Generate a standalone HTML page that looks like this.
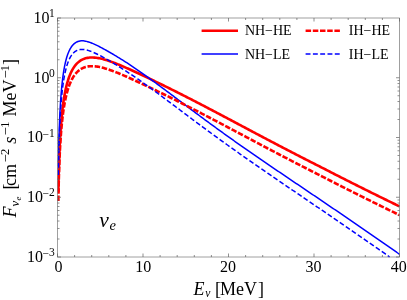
<!DOCTYPE html>
<html><head><meta charset="utf-8"><title>plot</title><style>html,body{margin:0;padding:0;background:#fff;width:407px;height:300px;overflow:hidden;font-family:"Liberation Serif",serif}</style></head><body>
<svg width="407" height="300" viewBox="0 0 407 300" style="position:absolute;left:0;top:0;will-change:transform">
<rect width="407" height="300" fill="#fff"/>
<g fill="none" stroke-linejoin="round" stroke-linecap="butt">
<path d="M58.35 192.26 L58.39 190.38 L58.42 188.50 L58.46 186.62 L58.50 184.74 L58.53 182.87 L58.57 181.00 L58.61 179.13 L58.66 177.26 L58.70 175.40 L58.75 173.54 L58.80 171.69 L58.85 169.83 L58.90 167.98 L58.95 166.14 L59.01 164.29 L59.07 162.45 L59.13 160.62 L59.19 158.79 L59.26 156.96 L59.33 155.14 L59.40 153.32 L59.47 151.50 L59.55 149.69 L59.62 147.89 L59.71 146.09 L59.79 144.30 L59.88 142.51 L59.97 140.73 L60.07 138.95 L60.17 137.18 L60.27 135.42 L60.38 133.66 L60.49 131.92 L60.60 130.17 L60.72 128.44 L60.85 126.71 L60.98 124.99 L61.11 123.29 L61.25 121.58 L61.40 119.89 L61.55 118.21 L61.70 116.54 L61.87 114.87 L62.04 113.22 L62.21 111.58 L62.39 109.95 L62.58 108.33 L62.78 106.73 L62.98 105.14 L63.19 103.56 L63.41 101.99 L63.64 100.44 L63.88 98.90 L64.13 97.38 L64.38 95.87 L64.65 94.38 L64.92 92.91 L65.21 91.45 L65.51 90.02 L65.82 88.60 L66.14 87.20 L66.47 85.82 L66.82 84.46 L67.18 83.13 L67.56 81.82 L67.94 80.53 L68.35 79.26 L68.77 78.02 L69.20 76.80 L69.66 75.62 L70.13 74.45 L70.61 73.32 L71.12 72.22 L71.65 71.15 L72.19 70.11 L72.76 69.10 L73.35 68.12 L73.96 67.19 L74.60 66.28 L75.69 64.89 L76.77 63.68 L77.86 62.62 L78.95 61.69 L80.03 60.89 L81.12 60.20 L82.21 59.61 L83.29 59.11 L84.38 58.69 L85.47 58.34 L86.55 58.06 L87.64 57.85 L88.73 57.68 L89.81 57.57 L90.90 57.51 L91.99 57.50 L93.07 57.52 L94.16 57.58 L95.25 57.67 L96.33 57.80 L97.42 57.95 L98.51 58.14 L99.59 58.34 L100.68 58.57 L101.77 58.83 L102.85 59.10 L103.94 59.39 L105.03 59.70 L106.11 60.02 L107.20 60.36 L108.29 60.72 L109.37 61.08 L110.46 61.46 L111.55 61.85 L112.63 62.25 L113.72 62.65 L114.81 63.07 L115.89 63.49 L116.98 63.93 L118.06 64.36 L119.15 64.81 L120.24 65.26 L121.32 65.72 L122.41 66.18 L123.50 66.65 L124.58 67.12 L125.67 67.59 L126.76 68.07 L127.84 68.55 L128.93 69.04 L130.02 69.53 L131.10 70.02 L132.19 70.51 L133.28 71.01 L134.36 71.51 L135.45 72.01 L136.54 72.51 L137.62 73.02 L138.71 73.52 L139.80 74.03 L140.88 74.54 L141.97 75.05 L143.06 75.57 L144.14 76.08 L145.23 76.60 L146.32 77.12 L147.40 77.63 L148.49 78.15 L149.58 78.67 L150.66 79.20 L151.75 79.72 L152.84 80.24 L153.92 80.77 L155.01 81.30 L156.10 81.82 L157.18 82.35 L158.27 82.88 L159.36 83.41 L160.44 83.94 L161.53 84.48 L162.62 85.01 L163.70 85.54 L164.79 86.08 L165.88 86.62 L166.96 87.15 L168.05 87.69 L169.14 88.23 L170.22 88.77 L171.31 89.31 L172.40 89.85 L173.48 90.40 L174.57 90.94 L175.66 91.49 L176.74 92.03 L177.83 92.58 L178.92 93.13 L180.00 93.68 L181.09 94.23 L182.18 94.78 L183.26 95.33 L184.35 95.88 L185.44 96.43 L186.52 96.99 L187.61 97.54 L188.70 98.10 L189.78 98.65 L190.87 99.21 L191.96 99.77 L193.04 100.33 L194.13 100.89 L195.22 101.45 L196.30 102.01 L197.39 102.57 L198.47 103.13 L199.56 103.70 L200.65 104.26 L201.73 104.83 L202.82 105.39 L203.91 105.96 L204.99 106.52 L206.08 107.09 L207.17 107.66 L208.25 108.23 L209.34 108.80 L210.43 109.37 L211.51 109.94 L212.60 110.51 L213.69 111.08 L214.77 111.65 L215.86 112.22 L216.95 112.79 L218.03 113.37 L219.12 113.94 L220.21 114.51 L221.29 115.09 L222.38 115.66 L223.47 116.24 L224.55 116.81 L225.64 117.39 L226.73 117.96 L227.81 118.54 L228.90 119.12 L229.99 119.69 L231.07 120.27 L232.16 120.84 L233.25 121.42 L234.33 122.00 L235.42 122.58 L236.51 123.15 L237.59 123.73 L238.68 124.31 L239.77 124.88 L240.85 125.46 L241.94 126.04 L243.03 126.62 L244.11 127.19 L245.20 127.77 L246.29 128.35 L247.37 128.92 L248.46 129.50 L249.55 130.08 L250.63 130.65 L251.72 131.23 L252.81 131.81 L253.89 132.38 L254.98 132.96 L256.07 133.53 L257.15 134.11 L258.24 134.68 L259.33 135.26 L260.41 135.83 L261.50 136.41 L262.59 136.98 L263.67 137.56 L264.76 138.13 L265.85 138.70 L266.93 139.28 L268.02 139.85 L269.11 140.42 L270.19 140.99 L271.28 141.56 L272.37 142.13 L273.45 142.70 L274.54 143.27 L275.63 143.84 L276.71 144.41 L277.80 144.98 L278.88 145.55 L279.97 146.12 L281.06 146.68 L282.14 147.25 L283.23 147.82 L284.32 148.38 L285.40 148.95 L286.49 149.51 L287.58 150.08 L288.66 150.64 L289.75 151.20 L290.84 151.76 L291.92 152.33 L293.01 152.89 L294.10 153.45 L295.18 154.01 L296.27 154.57 L297.36 155.13 L298.44 155.68 L299.53 156.24 L300.62 156.80 L301.70 157.36 L302.79 157.91 L303.88 158.47 L304.96 159.02 L306.05 159.58 L307.14 160.13 L308.22 160.68 L309.31 161.24 L310.40 161.79 L311.48 162.34 L312.57 162.89 L313.66 163.44 L314.74 163.99 L315.83 164.54 L316.92 165.09 L318.00 165.63 L319.09 166.18 L320.18 166.73 L321.26 167.29 L322.35 167.85 L323.44 168.41 L324.52 168.97 L325.61 169.53 L326.70 170.09 L327.78 170.65 L328.87 171.21 L329.96 171.77 L331.04 172.32 L332.13 172.88 L333.22 173.43 L334.30 173.99 L335.39 174.54 L336.48 175.10 L337.56 175.65 L338.65 176.20 L339.74 176.76 L340.82 177.31 L341.91 177.86 L343.00 178.41 L344.08 178.96 L345.17 179.51 L346.26 180.06 L347.34 180.60 L348.43 181.15 L349.52 181.70 L350.60 182.25 L351.69 182.79 L352.78 183.34 L353.86 183.88 L354.95 184.43 L356.04 184.97 L357.12 185.52 L358.21 186.06 L359.29 186.60 L360.38 187.14 L361.47 187.69 L362.55 188.23 L363.64 188.77 L364.73 189.31 L365.81 189.85 L366.90 190.39 L367.99 190.93 L369.07 191.47 L370.16 192.00 L371.25 192.54 L372.33 193.08 L373.42 193.62 L374.51 194.15 L375.59 194.69 L376.68 195.23 L377.77 195.76 L378.85 196.30 L379.94 196.83 L381.03 197.36 L382.11 197.90 L383.20 198.43 L384.29 198.97 L385.37 199.50 L386.46 200.03 L387.55 200.56 L388.63 201.10 L389.72 201.63 L390.81 202.16 L391.89 202.69 L392.98 203.22 L394.07 203.75 L395.15 204.28 L396.24 204.81 L397.33 205.34 L398.41 205.87 L399.50 206.40" stroke="#ff0000" stroke-width="2.6"/>
<path d="M58.35 166.12 L58.39 164.11 L58.42 162.11 L58.46 160.12 L58.50 158.13 L58.53 156.14 L58.57 154.15 L58.61 152.17 L58.66 150.20 L58.70 148.22 L58.75 146.26 L58.80 144.30 L58.85 142.34 L58.90 140.39 L58.95 138.44 L59.01 136.50 L59.07 134.57 L59.13 132.64 L59.19 130.71 L59.26 128.80 L59.33 126.89 L59.40 124.99 L59.47 123.09 L59.55 121.21 L59.62 119.33 L59.71 117.46 L59.79 115.59 L59.88 113.74 L59.97 111.90 L60.07 110.06 L60.17 108.24 L60.27 106.43 L60.38 104.63 L60.49 102.85 L60.60 101.07 L60.72 99.30 L60.85 97.55 L60.98 95.81 L61.11 94.09 L61.25 92.37 L61.40 90.68 L61.55 88.99 L61.70 87.33 L61.87 85.67 L62.04 84.04 L62.21 82.42 L62.39 80.82 L62.58 79.24 L62.78 77.68 L62.98 76.14 L63.19 74.62 L63.41 73.12 L63.64 71.64 L63.88 70.18 L64.13 68.75 L64.38 67.34 L64.65 65.96 L64.92 64.61 L65.21 63.28 L65.51 61.98 L65.82 60.71 L66.14 59.46 L66.47 58.25 L66.82 57.07 L67.18 55.93 L67.56 54.82 L67.94 53.74 L68.35 52.70 L68.77 51.70 L69.20 50.73 L69.66 49.81 L70.13 48.92 L70.61 48.08 L71.12 47.28 L71.65 46.52 L72.19 45.80 L72.76 45.12 L73.35 44.48 L73.96 43.88 L74.60 43.34 L75.69 42.56 L76.77 41.96 L77.86 41.50 L78.95 41.17 L80.03 40.96 L81.12 40.84 L82.21 40.81 L83.29 40.86 L84.38 40.98 L85.47 41.16 L86.55 41.39 L87.64 41.68 L88.73 42.00 L89.81 42.36 L90.90 42.76 L91.99 43.18 L93.07 43.63 L94.16 44.11 L95.25 44.60 L96.33 45.12 L97.42 45.65 L98.51 46.20 L99.59 46.76 L100.68 47.32 L101.77 47.89 L102.85 48.47 L103.94 49.06 L105.03 49.65 L106.11 50.25 L107.20 50.86 L108.29 51.48 L109.37 52.10 L110.46 52.73 L111.55 53.37 L112.63 54.01 L113.72 54.65 L114.81 55.30 L115.89 55.96 L116.98 56.62 L118.06 57.28 L119.15 57.95 L120.24 58.62 L121.32 59.30 L122.41 59.98 L123.50 60.66 L124.58 61.35 L125.67 62.04 L126.76 62.74 L127.84 63.44 L128.93 64.15 L130.02 64.86 L131.10 65.59 L132.19 66.32 L133.28 67.06 L134.36 67.80 L135.45 68.54 L136.54 69.29 L137.62 70.05 L138.71 70.80 L139.80 71.56 L140.88 72.32 L141.97 73.08 L143.06 73.85 L144.14 74.62 L145.23 75.40 L146.32 76.17 L147.40 76.95 L148.49 77.73 L149.58 78.52 L150.66 79.30 L151.75 80.09 L152.84 80.89 L153.92 81.68 L155.01 82.47 L156.10 83.27 L157.18 84.07 L158.27 84.87 L159.36 85.67 L160.44 86.48 L161.53 87.28 L162.62 88.09 L163.70 88.90 L164.79 89.71 L165.88 90.52 L166.96 91.33 L168.05 92.14 L169.14 92.96 L170.22 93.77 L171.31 94.59 L172.40 95.40 L173.48 96.22 L174.57 97.03 L175.66 97.85 L176.74 98.67 L177.83 99.49 L178.92 100.30 L180.00 101.12 L181.09 101.94 L182.18 102.75 L183.26 103.57 L184.35 104.39 L185.44 105.20 L186.52 106.02 L187.61 106.84 L188.70 107.65 L189.78 108.47 L190.87 109.28 L191.96 110.09 L193.04 110.91 L194.13 111.72 L195.22 112.53 L196.30 113.34 L197.39 114.15 L198.47 114.96 L199.56 115.77 L200.65 116.57 L201.73 117.38 L202.82 118.18 L203.91 118.99 L204.99 119.79 L206.08 120.59 L207.17 121.39 L208.25 122.19 L209.34 122.99 L210.43 123.78 L211.51 124.58 L212.60 125.37 L213.69 126.17 L214.77 126.96 L215.86 127.75 L216.95 128.54 L218.03 129.33 L219.12 130.11 L220.21 130.90 L221.29 131.68 L222.38 132.47 L223.47 133.25 L224.55 134.03 L225.64 134.81 L226.73 135.59 L227.81 136.36 L228.90 137.14 L229.99 137.91 L231.07 138.69 L232.16 139.46 L233.25 140.23 L234.33 141.00 L235.42 141.77 L236.51 142.53 L237.59 143.30 L238.68 144.06 L239.77 144.83 L240.85 145.59 L241.94 146.35 L243.03 147.11 L244.11 147.87 L245.20 148.63 L246.29 149.39 L247.37 150.14 L248.46 150.90 L249.55 151.65 L250.63 152.41 L251.72 153.16 L252.81 153.91 L253.89 154.66 L254.98 155.41 L256.07 156.16 L257.15 156.91 L258.24 157.66 L259.33 158.41 L260.41 159.15 L261.50 159.90 L262.59 160.64 L263.67 161.39 L264.76 162.13 L265.85 162.87 L266.93 163.62 L268.02 164.36 L269.11 165.10 L270.19 165.84 L271.28 166.58 L272.37 167.32 L273.45 168.06 L274.54 168.80 L275.63 169.54 L276.71 170.27 L277.80 171.01 L278.88 171.75 L279.97 172.49 L281.06 173.22 L282.14 173.96 L283.23 174.69 L284.32 175.43 L285.40 176.16 L286.49 176.90 L287.58 177.64 L288.66 178.37 L289.75 179.10 L290.84 179.84 L291.92 180.57 L293.01 181.31 L294.10 182.04 L295.18 182.78 L296.27 183.51 L297.36 184.24 L298.44 184.98 L299.53 185.71 L300.62 186.44 L301.70 187.18 L302.79 187.91 L303.88 188.65 L304.96 189.38 L306.05 190.11 L307.14 190.85 L308.22 191.58 L309.31 192.32 L310.40 193.05 L311.48 193.78 L312.57 194.52 L313.66 195.25 L314.74 195.99 L315.83 196.72 L316.92 197.46 L318.00 198.19 L319.09 198.93 L320.18 199.66 L321.26 200.40 L322.35 201.14 L323.44 201.87 L324.52 202.61 L325.61 203.34 L326.70 204.08 L327.78 204.82 L328.87 205.56 L329.96 206.29 L331.04 207.03 L332.13 207.77 L333.22 208.51 L334.30 209.25 L335.39 209.99 L336.48 210.73 L337.56 211.47 L338.65 212.21 L339.74 212.95 L340.82 213.69 L341.91 214.43 L343.00 215.17 L344.08 215.91 L345.17 216.65 L346.26 217.40 L347.34 218.14 L348.43 218.88 L349.52 219.63 L350.60 220.37 L351.69 221.12 L352.78 221.86 L353.86 222.61 L354.95 223.35 L356.04 224.10 L357.12 224.84 L358.21 225.59 L359.29 226.34 L360.38 227.08 L361.47 227.83 L362.55 228.58 L363.64 229.33 L364.73 230.08 L365.81 230.83 L366.90 231.58 L367.99 232.33 L369.07 233.08 L370.16 233.83 L371.25 234.58 L372.33 235.33 L373.42 236.09 L374.51 236.84 L375.59 237.59 L376.68 238.35 L377.77 239.10 L378.85 239.86 L379.94 240.61 L381.03 241.37 L382.11 242.12 L383.20 242.88 L384.29 243.64 L385.37 244.39 L386.46 245.15 L387.55 245.91 L388.63 246.67 L389.72 247.43 L390.81 248.19 L391.89 248.95 L392.98 249.71 L394.07 250.47 L395.15 251.23 L396.24 251.99 L397.33 252.75 L398.41 253.51 L399.50 254.28" stroke="#0000ff" stroke-width="1.5"/>
<path d="M58.35 200.96 L58.39 199.08 L58.42 197.20 L58.46 195.32 L58.50 193.44 L58.53 191.57 L58.57 189.70 L58.61 187.83 L58.66 185.96 L58.70 184.10 L58.75 182.24 L58.80 180.39 L58.85 178.53 L58.90 176.68 L58.95 174.84 L59.01 172.99 L59.07 171.15 L59.13 169.32 L59.19 167.49 L59.26 165.66 L59.33 163.84 L59.40 162.02 L59.47 160.20 L59.55 158.39 L59.62 156.59 L59.71 154.79 L59.79 153.00 L59.88 151.21 L59.97 149.43 L60.07 147.65 L60.17 145.88 L60.27 144.12 L60.38 142.36 L60.49 140.62 L60.60 138.87 L60.72 137.14 L60.85 135.41 L60.98 133.69 L61.11 131.99 L61.25 130.28 L61.40 128.59 L61.55 126.91 L61.70 125.24 L61.87 123.57 L62.04 121.92 L62.21 120.28 L62.39 118.65 L62.58 117.03 L62.78 115.43 L62.98 113.84 L63.19 112.26 L63.41 110.69 L63.64 109.14 L63.88 107.60 L64.13 106.08 L64.38 104.57 L64.65 103.08 L64.92 101.61 L65.21 100.15 L65.51 98.72 L65.82 97.30 L66.14 95.90 L66.47 94.52 L66.82 93.16 L67.18 91.83 L67.56 90.52 L67.94 89.23 L68.35 87.96 L68.77 86.72 L69.20 85.50 L69.66 84.32 L70.13 83.15 L70.61 82.02 L71.12 80.92 L71.65 79.85 L72.19 78.81 L72.76 77.80 L73.35 76.82 L73.96 75.89 L74.60 74.98 L75.69 73.59 L76.77 72.38 L77.86 71.32 L78.95 70.39 L80.03 69.59 L81.12 68.90 L82.21 68.31 L83.29 67.81 L84.38 67.39 L85.47 67.04 L86.55 66.76 L87.64 66.55 L88.73 66.38 L89.81 66.27 L90.90 66.21 L91.99 66.20 L93.07 66.22 L94.16 66.28 L95.25 66.37 L96.33 66.50 L97.42 66.65 L98.51 66.84 L99.59 67.04 L100.68 67.27 L101.77 67.53 L102.85 67.80 L103.94 68.09 L105.03 68.40 L106.11 68.72 L107.20 69.06 L108.29 69.42 L109.37 69.78 L110.46 70.16 L111.55 70.55 L112.63 70.95 L113.72 71.35 L114.81 71.77 L115.89 72.19 L116.98 72.63 L118.06 73.06 L119.15 73.51 L120.24 73.96 L121.32 74.42 L122.41 74.88 L123.50 75.35 L124.58 75.82 L125.67 76.29 L126.76 76.77 L127.84 77.25 L128.93 77.74 L130.02 78.23 L131.10 78.72 L132.19 79.21 L133.28 79.71 L134.36 80.21 L135.45 80.71 L136.54 81.21 L137.62 81.72 L138.71 82.22 L139.80 82.73 L140.88 83.24 L141.97 83.75 L143.06 84.27 L144.14 84.78 L145.23 85.30 L146.32 85.82 L147.40 86.33 L148.49 86.85 L149.58 87.37 L150.66 87.90 L151.75 88.42 L152.84 88.94 L153.92 89.47 L155.01 90.00 L156.10 90.52 L157.18 91.05 L158.27 91.58 L159.36 92.11 L160.44 92.64 L161.53 93.18 L162.62 93.71 L163.70 94.24 L164.79 94.78 L165.88 95.32 L166.96 95.85 L168.05 96.39 L169.14 96.93 L170.22 97.47 L171.31 98.01 L172.40 98.55 L173.48 99.10 L174.57 99.64 L175.66 100.19 L176.74 100.73 L177.83 101.28 L178.92 101.83 L180.00 102.38 L181.09 102.93 L182.18 103.48 L183.26 104.03 L184.35 104.58 L185.44 105.13 L186.52 105.69 L187.61 106.24 L188.70 106.80 L189.78 107.35 L190.87 107.91 L191.96 108.47 L193.04 109.03 L194.13 109.59 L195.22 110.15 L196.30 110.71 L197.39 111.27 L198.47 111.83 L199.56 112.40 L200.65 112.96 L201.73 113.53 L202.82 114.09 L203.91 114.66 L204.99 115.22 L206.08 115.79 L207.17 116.36 L208.25 116.93 L209.34 117.50 L210.43 118.07 L211.51 118.64 L212.60 119.21 L213.69 119.78 L214.77 120.35 L215.86 120.92 L216.95 121.49 L218.03 122.07 L219.12 122.64 L220.21 123.21 L221.29 123.79 L222.38 124.36 L223.47 124.94 L224.55 125.51 L225.64 126.09 L226.73 126.66 L227.81 127.24 L228.90 127.82 L229.99 128.39 L231.07 128.97 L232.16 129.54 L233.25 130.12 L234.33 130.70 L235.42 131.28 L236.51 131.85 L237.59 132.43 L238.68 133.01 L239.77 133.58 L240.85 134.16 L241.94 134.74 L243.03 135.32 L244.11 135.89 L245.20 136.47 L246.29 137.05 L247.37 137.62 L248.46 138.20 L249.55 138.78 L250.63 139.35 L251.72 139.93 L252.81 140.51 L253.89 141.08 L254.98 141.66 L256.07 142.23 L257.15 142.81 L258.24 143.38 L259.33 143.96 L260.41 144.53 L261.50 145.11 L262.59 145.68 L263.67 146.26 L264.76 146.83 L265.85 147.40 L266.93 147.98 L268.02 148.55 L269.11 149.12 L270.19 149.69 L271.28 150.26 L272.37 150.83 L273.45 151.40 L274.54 151.97 L275.63 152.54 L276.71 153.11 L277.80 153.68 L278.88 154.25 L279.97 154.82 L281.06 155.38 L282.14 155.95 L283.23 156.52 L284.32 157.08 L285.40 157.65 L286.49 158.21 L287.58 158.78 L288.66 159.34 L289.75 159.90 L290.84 160.46 L291.92 161.03 L293.01 161.59 L294.10 162.15 L295.18 162.71 L296.27 163.27 L297.36 163.83 L298.44 164.38 L299.53 164.94 L300.62 165.50 L301.70 166.06 L302.79 166.61 L303.88 167.17 L304.96 167.72 L306.05 168.28 L307.14 168.83 L308.22 169.38 L309.31 169.94 L310.40 170.49 L311.48 171.04 L312.57 171.59 L313.66 172.14 L314.74 172.69 L315.83 173.24 L316.92 173.79 L318.00 174.33 L319.09 174.88 L320.18 175.43 L321.26 175.99 L322.35 176.55 L323.44 177.11 L324.52 177.67 L325.61 178.23 L326.70 178.79 L327.78 179.35 L328.87 179.91 L329.96 180.47 L331.04 181.02 L332.13 181.58 L333.22 182.13 L334.30 182.69 L335.39 183.24 L336.48 183.80 L337.56 184.35 L338.65 184.90 L339.74 185.46 L340.82 186.01 L341.91 186.56 L343.00 187.11 L344.08 187.66 L345.17 188.21 L346.26 188.76 L347.34 189.30 L348.43 189.85 L349.52 190.40 L350.60 190.95 L351.69 191.49 L352.78 192.04 L353.86 192.58 L354.95 193.13 L356.04 193.67 L357.12 194.22 L358.21 194.76 L359.29 195.30 L360.38 195.84 L361.47 196.39 L362.55 196.93 L363.64 197.47 L364.73 198.01 L365.81 198.55 L366.90 199.09 L367.99 199.63 L369.07 200.17 L370.16 200.70 L371.25 201.24 L372.33 201.78 L373.42 202.32 L374.51 202.85 L375.59 203.39 L376.68 203.93 L377.77 204.46 L378.85 205.00 L379.94 205.53 L381.03 206.06 L382.11 206.60 L383.20 207.13 L384.29 207.67 L385.37 208.20 L386.46 208.73 L387.55 209.26 L388.63 209.80 L389.72 210.33 L390.81 210.86 L391.89 211.39 L392.98 211.92 L394.07 212.45 L395.15 212.98 L396.24 213.51 L397.33 214.04 L398.41 214.57 L399.50 215.10" stroke="#ff0000" stroke-width="2.6" stroke-dasharray="5.5 1.7"/>
<path d="M58.35 175.02 L58.39 173.01 L58.42 171.01 L58.46 169.02 L58.50 167.03 L58.53 165.04 L58.57 163.05 L58.61 161.07 L58.66 159.10 L58.70 157.12 L58.75 155.16 L58.80 153.20 L58.85 151.24 L58.90 149.29 L58.95 147.34 L59.01 145.40 L59.07 143.47 L59.13 141.54 L59.19 139.61 L59.26 137.70 L59.33 135.79 L59.40 133.89 L59.47 131.99 L59.55 130.11 L59.62 128.23 L59.71 126.36 L59.79 124.49 L59.88 122.64 L59.97 120.80 L60.07 118.96 L60.17 117.14 L60.27 115.33 L60.38 113.52 L60.49 111.73 L60.60 109.95 L60.72 108.19 L60.85 106.43 L60.98 104.69 L61.11 102.96 L61.25 101.24 L61.40 99.54 L61.55 97.85 L61.70 96.18 L61.87 94.53 L62.04 92.89 L62.21 91.27 L62.39 89.66 L62.58 88.08 L62.78 86.51 L62.98 84.96 L63.19 83.44 L63.41 81.93 L63.64 80.45 L63.88 78.99 L64.13 77.55 L64.38 76.13 L64.65 74.75 L64.92 73.38 L65.21 72.05 L65.51 70.74 L65.82 69.46 L66.14 68.21 L66.47 66.99 L66.82 65.80 L67.18 64.65 L67.56 63.53 L67.94 62.44 L68.35 61.39 L68.77 60.38 L69.20 59.40 L69.66 58.46 L70.13 57.57 L70.61 56.71 L71.12 55.90 L71.65 55.13 L72.19 54.40 L72.76 53.72 L73.35 53.08 L73.96 52.48 L74.60 51.94 L75.69 51.16 L76.77 50.56 L77.86 50.10 L78.95 49.77 L80.03 49.56 L81.12 49.44 L82.21 49.41 L83.29 49.46 L84.38 49.58 L85.47 49.76 L86.55 49.99 L87.64 50.28 L88.73 50.60 L89.81 50.96 L90.90 51.36 L91.99 51.78 L93.07 52.23 L94.16 52.71 L95.25 53.20 L96.33 53.72 L97.42 54.25 L98.51 54.80 L99.59 55.36 L100.68 55.93 L101.77 56.51 L102.85 57.10 L103.94 57.69 L105.03 58.30 L106.11 58.91 L107.20 59.54 L108.29 60.16 L109.37 60.80 L110.46 61.44 L111.55 62.08 L112.63 62.73 L113.72 63.39 L114.81 64.05 L115.89 64.71 L116.98 65.39 L118.06 66.06 L119.15 66.74 L120.24 67.42 L121.32 68.11 L122.41 68.80 L123.50 69.50 L124.58 70.20 L125.67 70.90 L126.76 71.61 L127.84 72.32 L128.93 73.04 L130.02 73.76 L131.10 74.49 L132.19 75.22 L133.28 75.96 L134.36 76.70 L135.45 77.44 L136.54 78.19 L137.62 78.95 L138.71 79.70 L139.80 80.46 L140.88 81.22 L141.97 81.98 L143.06 82.75 L144.14 83.52 L145.23 84.30 L146.32 85.07 L147.40 85.85 L148.49 86.63 L149.58 87.42 L150.66 88.20 L151.75 88.99 L152.84 89.79 L153.92 90.58 L155.01 91.37 L156.10 92.17 L157.18 92.97 L158.27 93.77 L159.36 94.57 L160.44 95.38 L161.53 96.18 L162.62 96.99 L163.70 97.80 L164.79 98.61 L165.88 99.42 L166.96 100.23 L168.05 101.04 L169.14 101.86 L170.22 102.67 L171.31 103.49 L172.40 104.30 L173.48 105.12 L174.57 105.93 L175.66 106.75 L176.74 107.57 L177.83 108.39 L178.92 109.20 L180.00 110.02 L181.09 110.84 L182.18 111.65 L183.26 112.47 L184.35 113.29 L185.44 114.10 L186.52 114.92 L187.61 115.74 L188.70 116.55 L189.78 117.37 L190.87 118.18 L191.96 118.99 L193.04 119.81 L194.13 120.62 L195.22 121.43 L196.30 122.24 L197.39 123.05 L198.47 123.86 L199.56 124.67 L200.65 125.47 L201.73 126.28 L202.82 127.08 L203.91 127.89 L204.99 128.69 L206.08 129.49 L207.17 130.29 L208.25 131.09 L209.34 131.89 L210.43 132.68 L211.51 133.48 L212.60 134.27 L213.69 135.07 L214.77 135.86 L215.86 136.65 L216.95 137.44 L218.03 138.23 L219.12 139.01 L220.21 139.80 L221.29 140.58 L222.38 141.37 L223.47 142.15 L224.55 142.93 L225.64 143.71 L226.73 144.49 L227.81 145.26 L228.90 146.04 L229.99 146.81 L231.07 147.59 L232.16 148.37 L233.25 149.14 L234.33 149.92 L235.42 150.69 L236.51 151.46 L237.59 152.23 L238.68 153.00 L239.77 153.77 L240.85 154.54 L241.94 155.31 L243.03 156.07 L244.11 156.84 L245.20 157.60 L246.29 158.36 L247.37 159.13 L248.46 159.89 L249.55 160.65 L250.63 161.40 L251.72 162.16 L252.81 162.92 L253.89 163.67 L254.98 164.43 L256.07 165.18 L257.15 165.94 L258.24 166.69 L259.33 167.44 L260.41 168.19 L261.50 168.94 L262.59 169.69 L263.67 170.44 L264.76 171.19 L265.85 171.94 L266.93 172.69 L268.02 173.43 L269.11 174.18 L270.19 174.93 L271.28 175.67 L272.37 176.42 L273.45 177.16 L274.54 177.91 L275.63 178.65 L276.71 179.39 L277.80 180.13 L278.88 180.88 L279.97 181.62 L281.06 182.36 L282.14 183.10 L283.23 183.84 L284.32 184.58 L285.40 185.32 L286.49 186.06 L287.58 186.80 L288.66 187.54 L289.75 188.28 L290.84 189.02 L291.92 189.76 L293.01 190.50 L294.10 191.24 L295.18 191.98 L296.27 192.72 L297.36 193.46 L298.44 194.20 L299.53 194.94 L300.62 195.67 L301.70 196.41 L302.79 197.15 L303.88 197.89 L304.96 198.63 L306.05 199.37 L307.14 200.11 L308.22 200.85 L309.31 201.59 L310.40 202.32 L311.48 203.06 L312.57 203.80 L313.66 204.54 L314.74 205.28 L315.83 206.02 L316.92 206.76 L318.00 207.50 L319.09 208.24 L320.18 208.98 L321.26 209.73 L322.35 210.47 L323.44 211.21 L324.52 211.95 L325.61 212.69 L326.70 213.43 L327.78 214.18 L328.87 214.92 L329.96 215.66 L331.04 216.40 L332.13 217.15 L333.22 217.89 L334.30 218.63 L335.39 219.38 L336.48 220.12 L337.56 220.87 L338.65 221.61 L339.74 222.36 L340.82 223.11 L341.91 223.85 L343.00 224.60 L344.08 225.34 L345.17 226.09 L346.26 226.84 L347.34 227.59 L348.43 228.34 L349.52 229.08 L350.60 229.83 L351.69 230.58 L352.78 231.33 L353.86 232.08 L354.95 232.83 L356.04 233.59 L357.12 234.34 L358.21 235.09 L359.29 235.84 L360.38 236.59 L361.47 237.35 L362.55 238.10 L363.64 238.85 L364.73 239.61 L365.81 240.36 L366.90 241.12 L367.99 241.87 L369.07 242.63 L370.16 243.39 L371.25 244.14 L372.33 244.90 L373.42 245.66 L374.51 246.41 L375.59 247.17 L376.68 247.93 L377.77 248.69 L378.85 249.45 L379.94 250.21 L381.03 250.97 L382.11 251.72 L383.20 252.48 L384.29 253.24 L385.37 253.99 L386.46 254.75 L387.55 255.51 L388.63 256.27 L389.68 257.00" stroke="#0000ff" stroke-width="1.5" stroke-dasharray="4.9 2.4"/>
</g>
<g stroke="#808080" stroke-width="0.75" fill="none" shape-rendering="auto">
<rect x="57.5" y="18.0" width="342.0" height="239.0"/>
</g>
<g stroke="#606060" stroke-width="0.7" fill="none">
<path d="M57.50 257.00v-3.50M57.50 18.00v3.50M74.60 257.00v-2.00M74.60 18.00v2.00M91.70 257.00v-2.00M91.70 18.00v2.00M108.80 257.00v-2.00M108.80 18.00v2.00M125.90 257.00v-2.00M125.90 18.00v2.00M143.00 257.00v-3.50M143.00 18.00v3.50M160.10 257.00v-2.00M160.10 18.00v2.00M177.20 257.00v-2.00M177.20 18.00v2.00M194.30 257.00v-2.00M194.30 18.00v2.00M211.40 257.00v-2.00M211.40 18.00v2.00M228.50 257.00v-3.50M228.50 18.00v3.50M245.60 257.00v-2.00M245.60 18.00v2.00M262.70 257.00v-2.00M262.70 18.00v2.00M279.80 257.00v-2.00M279.80 18.00v2.00M296.90 257.00v-2.00M296.90 18.00v2.00M314.00 257.00v-3.50M314.00 18.00v3.50M331.10 257.00v-2.00M331.10 18.00v2.00M348.20 257.00v-2.00M348.20 18.00v2.00M365.30 257.00v-2.00M365.30 18.00v2.00M382.40 257.00v-2.00M382.40 18.00v2.00M399.50 257.00v-3.50M399.50 18.00v3.50M57.50 18.00h3.50M57.50 59.76h2.00M57.50 49.24h2.00M57.50 41.78h2.00M57.50 35.99h2.00M57.50 31.26h2.00M57.50 27.26h2.00M57.50 23.79h2.00M57.50 20.73h2.00M57.50 77.75h3.50M399.50 77.75h-3.50M57.50 119.51h2.00M399.50 119.51h-2.00M57.50 108.99h2.00M399.50 108.99h-2.00M57.50 101.53h2.00M399.50 101.53h-2.00M57.50 95.74h2.00M399.50 95.74h-2.00M57.50 91.01h2.00M399.50 91.01h-2.00M57.50 87.01h2.00M399.50 87.01h-2.00M57.50 83.54h2.00M399.50 83.54h-2.00M57.50 80.48h2.00M399.50 80.48h-2.00M57.50 137.50h3.50M399.50 137.50h-3.50M57.50 179.26h2.00M399.50 179.26h-2.00M57.50 168.74h2.00M399.50 168.74h-2.00M57.50 161.28h2.00M399.50 161.28h-2.00M57.50 155.49h2.00M399.50 155.49h-2.00M57.50 150.76h2.00M399.50 150.76h-2.00M57.50 146.76h2.00M399.50 146.76h-2.00M57.50 143.29h2.00M399.50 143.29h-2.00M57.50 140.23h2.00M399.50 140.23h-2.00M57.50 197.25h3.50M399.50 197.25h-3.50M57.50 239.01h2.00M399.50 239.01h-2.00M57.50 228.49h2.00M399.50 228.49h-2.00M57.50 221.03h2.00M399.50 221.03h-2.00M57.50 215.24h2.00M399.50 215.24h-2.00M57.50 210.51h2.00M399.50 210.51h-2.00M57.50 206.51h2.00M399.50 206.51h-2.00M57.50 203.04h2.00M399.50 203.04h-2.00M57.50 199.98h2.00M399.50 199.98h-2.00M57.50 257.00h3.50M399.50 257.00h-3.50"/>
</g>
<g fill="none">
<path d="M201.6 30.7H238" stroke="#ff0000" stroke-width="2.6"/>
<path d="M201.6 54.05H238" stroke="#0000ff" stroke-width="1.5"/>
<path d="M305.6 30.7H340.4" stroke="#ff0000" stroke-width="2.6" stroke-dasharray="5.5 1.7"/>
<path d="M305.6 54.05H340.4" stroke="#0000ff" stroke-width="1.5" stroke-dasharray="4.9 2.4"/>
</g>
<g font-family="'Liberation Serif', serif" fill="#000">
<text x="244.9" y="35.3" font-size="14">NH−HE</text>
<text x="244.9" y="58.7" font-size="14">NH−LE</text>
<text x="348.8" y="35.3" font-size="14">IH−HE</text>
<text x="348.8" y="58.7" font-size="14">IH−LE</text>
<text x="58.50" y="271.6" font-size="16" text-anchor="middle">0</text>
<text x="143.20" y="271.6" font-size="16" text-anchor="middle">10</text>
<text x="228.00" y="271.6" font-size="16" text-anchor="middle">20</text>
<text x="313.60" y="271.6" font-size="16" text-anchor="middle">30</text>
<text x="398.80" y="271.6" font-size="16" text-anchor="middle">40</text>
<text font-size="16"><tspan x="33.38" y="22.90">10</tspan><tspan x="48.88" y="17.00" font-size="11.5">1</tspan></text>
<text font-size="16"><tspan x="33.38" y="82.65">10</tspan><tspan x="48.88" y="76.75" font-size="11.5">0</tspan></text>
<text font-size="16"><tspan x="26.90" y="142.40">10</tspan><tspan x="42.40" y="137.60" font-size="11.5">−</tspan><tspan x="48.88" y="136.50" font-size="11.5">1</tspan></text>
<text font-size="16"><tspan x="26.90" y="202.15">10</tspan><tspan x="42.40" y="197.35" font-size="11.5">−</tspan><tspan x="48.88" y="196.25" font-size="11.5">2</tspan></text>
<text font-size="16"><tspan x="26.90" y="261.90">10</tspan><tspan x="42.40" y="257.10" font-size="11.5">−</tspan><tspan x="48.88" y="256.00" font-size="11.5">3</tspan></text>
<text><tspan x="193.60" y="294.50" font-size="18" font-style="italic">E</tspan><tspan x="205.20" y="296.50" font-size="11.5" font-style="italic">ν</tspan><tspan x="214.95" y="294.50" font-size="18">[</tspan><tspan x="219.90" y="294.50" font-size="18">MeV</tspan><tspan x="257.90" y="294.50" font-size="18">]</tspan></text>
<text transform="translate(16.3 217.4) rotate(-90)"><tspan x="0.00" y="0.00" font-size="18" font-style="italic">F</tspan><tspan x="11.00" y="2.50" font-size="12.8" font-style="italic">ν</tspan><tspan x="17.00" y="4.40" font-size="9" font-style="italic">e</tspan><tspan x="27.95" y="0.00" font-size="18">[</tspan><tspan x="31.50" y="0.00" font-size="18">cm</tspan><tspan x="54.80" y="-6.00" font-size="14.5">−</tspan><tspan x="62.40" y="-7.20" font-size="12.6">2</tspan><tspan x="73.70" y="0.00" font-size="18" font-style="italic">s</tspan><tspan x="81.80" y="-6.00" font-size="14.5">−</tspan><tspan x="89.60" y="-7.20" font-size="12.6">1</tspan><tspan x="101.00" y="0.00" font-size="18">MeV</tspan><tspan x="138.80" y="-6.00" font-size="14.5">−</tspan><tspan x="146.10" y="-7.20" font-size="12.6">1</tspan><tspan x="152.30" y="0.00" font-size="18">]</tspan></text>
<text x="99.3" y="226.6" font-size="21.5" font-style="italic">ν<tspan font-size="14.5" dy="3.4" dx="0.6">e</tspan></text>
</g>
</svg>
</body></html>
